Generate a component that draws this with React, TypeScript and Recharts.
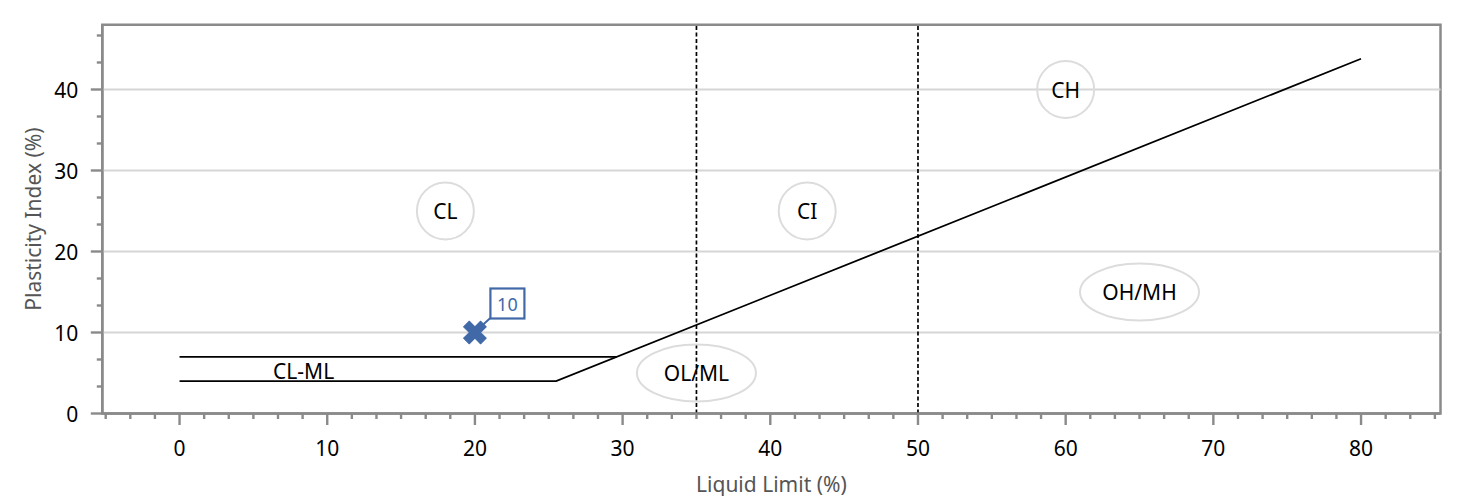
import React from 'react';
import { ComposedChart, Line, Scatter, XAxis, YAxis, ReferenceLine, ReferenceArea, Customized } from 'recharts';

const FONT = '"Noto Sans", "DejaVu Sans", sans-serif';
const FS = 21;
const BLUE = '#4169a8';
const AXIS_GRAY = '#8a8a8a';
const W = 1469;
const H = 504;

// Axis tick labels
const xMajorTicks = [0, 10, 20, 30, 40, 50, 60, 70, 80];
const yMajorTicks = [0, 10, 20, 30, 40];
const yGridValues = [10, 20, 30, 40];
const X_MINOR_PER_MAJOR = 6;
const Y_MINOR_PER_MAJOR = 3;
const xDomain: [number, number] = [-5.23, 85.38];
const yDomain: [number, number] = [0, 48];

// Boundary lines (Liquid Limit x, Plasticity Index y)
const lowerLine = [
  { x: 0, y: 4 },
  { x: 25.5, y: 4 },
  { x: 80, y: 43.8 },
];
const upperLine = [
  { x: 0, y: 7 },
  { x: 29.6, y: 7 },
];
const dividerLL = [35, 50];

// Zone labels
const zones = [
  { x: 18, y: 25, label: 'CL' },
  { x: 42.5, y: 25, label: 'CI' },
  { x: 60, y: 40, label: 'CH' },
  { x: 65, y: 15, label: 'OH/MH' },
  { x: 35, y: 5, label: 'OL/ML' },
];
const plainLabels = [{ x: 8.4, y: 5.2, label: 'CL-ML' }];

// Sample point
const samples = [{ x: 20, y: 10, label: '10' }];

const buildMinor = (majors: number[], per: number, lo: number, hi: number) => {
  const step = (majors[1] - majors[0]) / per;
  const out: number[] = [];
  const start = majors[0] - Math.floor((majors[0] - lo) / step) * step;
  for (let v = start; v <= hi + 1e-9; v += step) out.push(Math.round(v * 1000) / 1000);
  return out;
};
const xTicks = buildMinor(xMajorTicks, X_MINOR_PER_MAJOR, xDomain[0], xDomain[1]);
const yTicks = buildMinor(yMajorTicks, Y_MINOR_PER_MAJOR, yDomain[0], yDomain[1]);
const isMajor = (v: number) => Math.abs(v / 10 - Math.round(v / 10)) < 1e-6;

const XTick = (props: any) => {
  const { x, y, payload } = props;
  const v = payload.value;
  const major = isMajor(v);
  return (
    <g>
      <line x1={x} x2={x} y1={y} y2={y + (major ? 11.5 : 5.5)} stroke={AXIS_GRAY} strokeWidth={2.4} />
      {major && (
        <text x={x} y={y + 34} textAnchor="middle" dominantBaseline="central" fontFamily={FONT} fontSize={FS} fill="#000">
          {v}
        </text>
      )}
    </g>
  );
};

const YTick = (props: any) => {
  const { x, y, payload } = props;
  const v = payload.value;
  const major = isMajor(v);
  return (
    <g>
      <line x1={x} x2={x - (major ? 11.5 : 5.5)} y1={y} y2={y} stroke={AXIS_GRAY} strokeWidth={2.4} />
      {major && (
        <text x={x - 24} y={y} textAnchor="end" dominantBaseline="central" fontFamily={FONT} fontSize={FS} fill="#000">
          {v}
        </text>
      )}
    </g>
  );
};

const ZoneShape = (p: any) => {
  const { cx, cy, payload } = p;
  const wide = payload.label.length > 2;
  const rx = wide ? 59.5 : 28.5;
  const ry = 28.5;
  return (
    <g>
      <ellipse cx={cx} cy={cy} rx={rx} ry={ry} fill="none" stroke="#dcdcdc" strokeWidth={2} />
      <text x={cx} y={cy} textAnchor="middle" dominantBaseline="central" fontFamily={FONT} fontSize={FS} fill="#000">
        {payload.label}
      </text>
    </g>
  );
};

const PlainLabelShape = (p: any) => {
  const { cx, cy, payload } = p;
  return (
    <text x={cx} y={cy} textAnchor="middle" dominantBaseline="central" fontFamily={FONT} fontSize={FS} fill="#000">
      {payload.label}
    </text>
  );
};

const SampleShape = (p: any) => {
  const { cx, cy, payload } = p;
  const L = 12;
  const a = 4;
  const d = `M${-L},${-a} L${-a},${-a} L${-a},${-L} L${a},${-L} L${a},${-a} L${L},${-a} L${L},${a} L${a},${a} L${a},${L} L${-a},${L} L${-a},${a} L${-L},${a} Z`;
  return (
    <g>
      <line x1={cx + 5} y1={cy - 5} x2={cx + 16.5} y2={cy - 15.5} stroke={BLUE} strokeWidth={2} />
      <path d={d} transform={`translate(${cx},${cy}) rotate(45)`} fill={BLUE} stroke={BLUE} strokeWidth={1} strokeLinejoin="round" />
      <rect x={cx + 15.5} y={cy - 44} width={34} height={30} fill="#fff" stroke={BLUE} strokeWidth={2.2} />
      <text x={cx + 32.5} y={cy - 29} textAnchor="middle" dominantBaseline="central" fontFamily={FONT} fontSize={18} fill={BLUE}>
        {payload.label}
      </text>
    </g>
  );
};

const XTitle = (props: any) => {
  const { viewBox } = props;
  const cx = viewBox.x + viewBox.width / 2;
  return (
    <text x={cx} y={viewBox.y + 70} textAnchor="middle" dominantBaseline="central" fontFamily={FONT} fontSize={FS} fill="#555">
      Liquid Limit (%)
    </text>
  );
};

const YTitle = (props: any) => {
  const { viewBox } = props;
  const cy = viewBox.y + viewBox.height / 2;
  const x = 33;
  return (
    <text x={x} y={cy} transform={`rotate(-90, ${x}, ${cy})`} textAnchor="middle" dominantBaseline="central" fontFamily={FONT} fontSize={FS} fill="#555">
      Plasticity Index (%)
    </text>
  );
};

const Frame = () => (
  <g className="page-frame">
    <line x1={4.75} x2={4.75} y1={0} y2={H} stroke="#000" strokeWidth={2.5} />
    <line x1={1462.25} x2={1462.25} y1={0} y2={H} stroke="#000" strokeWidth={2.5} />
  </g>
);

export default function App() {
  return (
    <div style={{ width: W, height: H, margin: -8, background: '#fff' }}>
      <ComposedChart width={W} height={H} margin={{ top: 24.7, right: 28.5, bottom: 0, left: 0 }}>
        <XAxis
          dataKey="x"
          type="number"
          domain={xDomain}
          allowDataOverflow
          ticks={xTicks}
          interval={0}
          tickSize={0}
          tickMargin={0}
          tick={<XTick />}
          height={90.5}
          axisLine={{ stroke: AXIS_GRAY, strokeWidth: 2.5 }}
          label={<XTitle />}
        />
        <YAxis
          type="number"
          domain={yDomain}
          allowDataOverflow
          ticks={yTicks}
          interval={0}
          tickSize={0}
          tickMargin={0}
          tick={<YTick />}
          width={102.3}
          axisLine={{ stroke: AXIS_GRAY, strokeWidth: 2.5 }}
          label={<YTitle />}
        />

        {yGridValues.map((v) => (
          <ReferenceLine key={'g' + v} y={v} stroke="#d6d6d6" strokeWidth={2} />
        ))}
        {dividerLL.map((v) => (
          <ReferenceLine key={'d' + v} x={v} stroke="#000" strokeWidth={1.7} strokeDasharray="4 2.5" />
        ))}

        <Line data={lowerLine} dataKey="y" stroke="#000" strokeWidth={1.8} dot={false} activeDot={false} isAnimationActive={false} />
        <Line data={upperLine} dataKey="y" stroke="#000" strokeWidth={1.8} dot={false} activeDot={false} isAnimationActive={false} />

        <Scatter data={zones} dataKey="y" shape={<ZoneShape />} isAnimationActive={false} />
        <Scatter data={plainLabels} dataKey="y" shape={<PlainLabelShape />} isAnimationActive={false} />
        <Scatter data={samples} dataKey="y" shape={<SampleShape />} isAnimationActive={false} />

        <ReferenceArea
          x1={xDomain[0]}
          x2={xDomain[1]}
          y1={yDomain[0]}
          y2={yDomain[1]}
          fill="none"
          fillOpacity={0}
          stroke={AXIS_GRAY}
          strokeWidth={2.5}
          ifOverflow="visible"
        />
        <Customized component={<Frame />} />
      </ComposedChart>
    </div>
  );
}
